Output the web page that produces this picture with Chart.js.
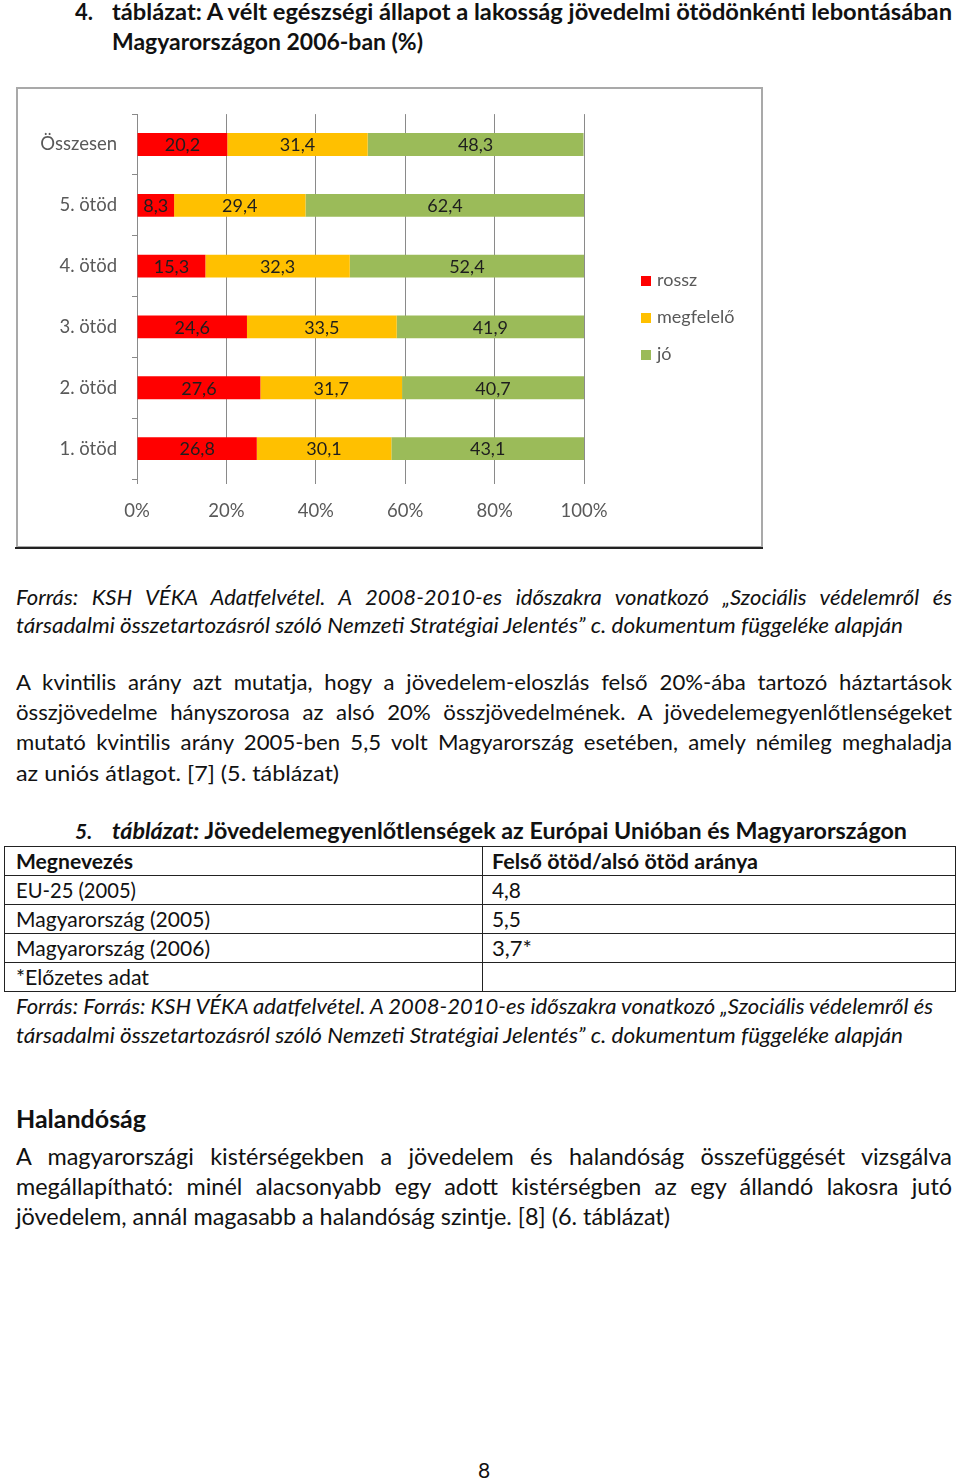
<!DOCTYPE html>
<html lang="hu">
<head>
<meta charset="utf-8">
<script src="https://cdn.jsdelivr.net/npm/chart.js@4/dist/chart.umd.min.js"></script>
<style>
  body { margin: 0; background: #fff; font-family: Lato, "Open Sans", sans-serif; color: #111; }
  #page { position: relative; width: 960px; height: 1480px; overflow: hidden; }
  .ln { position: absolute; white-space: nowrap; line-height: 30px; font-size: 21px; transform-origin: 0 50%; }
  .b { font-weight: bold; }
  .i { font-style: italic; }
  #chartBox { position: absolute; left: 16px; top: 87px; width: 747px; height: 461px; box-sizing: border-box; border: 2px solid #a9a9a9; }
  #chartBox canvas { position: absolute; left: -1px; top: -1px; }
  #chartRule { position: absolute; left: 15px; top: 547px; width: 748px; height: 2px; background: #222; }
  .leg { position: absolute; left: 641px; font-size: 18px; color: #595959; line-height: 20px; white-space: nowrap; }
  .leg i { display: inline-block; width: 10px; height: 10px; margin-right: 6px; vertical-align: 0px; }
  table { position: absolute; left: 4px; top: 846px; width: 952px; border-collapse: collapse; font-size: 21px; }
  td { border: 1.5px solid #222; height: 28px; padding: 0 0 0 11px; line-height: 26px; white-space: nowrap; }
  td.c2 { padding-left: 9px; }
  .sc { display: inline-block; transform-origin: 0 50%; }
</style>
</head>
<body>
<div id="page">
  <div class="ln b" style="left:75px;top:-3px;font-size:22px">4.</div>
  <div class="ln b s" style="left:112px;top:-3px;font-size:22.5px" data-w="840">táblázat: A vélt egészségi állapot a lakosság jövedelmi ötödönkénti lebontásában</div>
  <div class="ln b s" style="left:112px;top:27px;font-size:22.5px" data-w="311">Magyarországon 2006-ban (%)</div>

  <div id="chartBox"><canvas id="healthChart" width="745" height="459"></canvas></div>
  <div id="chartRule"></div>
  <div id="legend"></div>

  <div class="ln i j" style="left:16px;top:582px" data-p="src" data-w="936">Forrás: KSH VÉKA Adatfelvétel. A 2008-2010-es időszakra vonatkozó „Szociális védelemről és</div>
  <div class="ln i s" style="left:16px;top:610px" data-p="src" data-w="887">társadalmi összetartozásról szóló Nemzeti Stratégiai Jelentés” c. dokumentum függeléke alapján</div>

  <div class="ln j" style="left:16px;top:667px;font-size:22px" data-p="p1" data-kf="0.96" data-w="936">A kvintilis arány azt mutatja, hogy a jövedelem-eloszlás felső 20%-ába tartozó háztartások</div>
  <div class="ln j" style="left:16px;top:697px;font-size:22px" data-p="p1" data-kf="0.96" data-w="936">összjövedelme hányszorosa az alsó 20% összjövedelmének. A jövedelemegyenlőtlenségeket</div>
  <div class="ln j" style="left:16px;top:727px;font-size:22px" data-p="p1" data-kf="0.96" data-w="936">mutató kvintilis arány 2005-ben 5,5 volt Magyarország esetében, amely némileg meghaladja</div>
  <div class="ln s" style="left:16px;top:758px;font-size:22px" data-p="p1" data-w="323">az uniós átlagot. [7] (5. táblázat)</div>

  <div class="ln b i" style="left:75px;top:816px;font-size:21px">5.</div>
  <div class="ln b s" style="left:112px;top:816px;font-size:22px" data-w="795"><span class="i">táblázat:</span> Jövedelemegyenlőtlenségek az Európai Unióban és Magyarországon</div>

  <table>
    <tr><td style="width:466px" class="b"><span class="sc" data-w="117">Megnevezés</span></td><td class="c2 b"><span class="sc" data-w="266">Felső ötöd/alsó ötöd aránya</span></td></tr>
    <tr><td><span class="sc" data-w="120">EU-25 (2005)</span></td><td class="c2"><span class="sc" data-w="29">4,8</span></td></tr>
    <tr><td><span class="sc" data-w="194">Magyarország (2005)</span></td><td class="c2"><span class="sc" data-w="29">5,5</span></td></tr>
    <tr><td><span class="sc" data-w="194">Magyarország (2006)</span></td><td class="c2"><span class="sc" data-w="40">3,7*</span></td></tr>
    <tr><td><span class="sc" data-w="133">*Előzetes adat</span></td><td class="c2"></td></tr>
  </table>

  <div class="ln i s" style="left:16px;top:991px" data-w="917">Forrás: Forrás: KSH VÉKA adatfelvétel. A 2008-2010-es időszakra vonatkozó „Szociális védelemről és</div>
  <div class="ln i s" style="left:16px;top:1020px" data-w="887">társadalmi összetartozásról szóló Nemzeti Stratégiai Jelentés” c. dokumentum függeléke alapján</div>

  <div class="ln b s" style="left:16px;top:1103px;font-size:25px" data-w="130">Halandóság</div>
  <div class="ln j" style="left:16px;top:1141px;font-size:23px" data-p="p2" data-w="936">A magyarországi kistérségekben a jövedelem és halandóság összefüggését vizsgálva</div>
  <div class="ln j" style="left:16px;top:1171px;font-size:23px" data-p="p2" data-w="936">megállapítható: minél alacsonyabb egy adott kistérségben az egy állandó lakosra jutó</div>
  <div class="ln s" style="left:16px;top:1201px;font-size:23px" data-p="p2" data-w="654">jövedelem, annál magasabb a halandóság szintje. [8] (6. táblázat)</div>

  <div class="ln" style="left:478px;top:1455px;font-size:21px">8</div>
</div>

<script>
  const categories = ["Összesen", "5. ötöd", "4. ötöd", "3. ötöd", "2. ötöd", "1. ötöd"];
  const seriesNames = ["rossz", "megfelelő", "jó"];
  const rossz = [20.2, 8.3, 15.3, 24.6, 27.6, 26.8];
  const megfelelo = [31.4, 29.4, 32.3, 33.5, 31.7, 30.1];
  const jo = [48.3, 62.4, 52.4, 41.9, 40.7, 43.1];
  const colors = ["#FF0000", "#FFC000", "#9BBB59"];
  const xTickStep = 20;

  const labelFont = { family: "Lato", size: 18.5 };

  // value labels in the middle of each segment
  const valueLabels = {
    id: "valueLabels",
    afterDatasetsDraw(chart) {
      const ctx = chart.ctx;
      ctx.save();
      ctx.font = "18px Lato";
      ctx.fillStyle = "#1e1e1e";
      ctx.textAlign = "center";
      ctx.textBaseline = "middle";
      chart.data.datasets.forEach((ds, i) => {
        chart.getDatasetMeta(i).data.forEach((bar, j) => {
          const x = (bar.x + bar.base) / 2;
          ctx.fillText(ds.data[j].toFixed(1).replace(".", ","), x, bar.y + 1);
        });
      });
      ctx.restore();
    },
  };

  const chart = new Chart(document.getElementById("healthChart").getContext("2d"), {
    type: "bar",
    data: {
      labels: categories,
      datasets: [rossz, megfelelo, jo].map((d, i) => ({
        label: seriesNames[i],
        data: d,
        backgroundColor: colors[i],
        barPercentage: 0.375,
        categoryPercentage: 1,
      })),
    },
    options: {
      indexAxis: "y",
      responsive: false,
      animation: false,
      layout: { padding: { top: 22, right: 178, left: 0, bottom: 0 } },
      plugins: { legend: { display: false }, tooltip: { enabled: false } },
      scales: {
        x: {
          stacked: true,
          min: 0,
          max: 100,
          grid: { color: "#8a8a8a", tickLength: 5 },
          border: { display: false },
          ticks: {
            stepSize: xTickStep,
            callback: (v) => v + "%",
            color: "#595959",
            font: labelFont,
            padding: 16,
          },
          afterFit: (s) => { s.height = 68; },
        },
        y: {
          stacked: true,
          grid: { drawOnChartArea: false, color: "#8a8a8a", tickLength: 5, offset: true },
          border: { display: true, color: "#8a8a8a" },
          ticks: { color: "#595959", font: labelFont, padding: 15 },
          afterFit: (s) => { s.width = 120; },
        },
      },
    },
    plugins: [valueLabels],
  });

  // html legend built from the datasets
  const legend = document.getElementById("legend");
  chart.data.datasets.forEach((ds, i) => {
    const el = document.createElement("div");
    el.className = "leg";
    el.style.top = (269 + i * 37) + "px";
    el.innerHTML = '<i style="background:' + ds.backgroundColor + '"></i>' + ds.label;
    legend.appendChild(el);
  });

  // squeeze lines to the widths in the scan; justified lines share the
  // glyph scale of their paragraph's last line and take up the rest in word gaps
  function fit() {
    const all = document.querySelectorAll(".ln[data-w], .sc[data-w]");
    const k = {};
    all.forEach((el) => {
      el.style.wordSpacing = "0px";
      el.style.transform = "none";
    });
    all.forEach((el) => {
      if (el.classList.contains("j")) return;
      const f = +el.dataset.w / el.getBoundingClientRect().width;
      el.style.transform = "scaleX(" + f + ")";
      if (el.dataset.p) k[el.dataset.p] = f;
    });
    all.forEach((el) => {
      if (!el.classList.contains("j")) return;
      const f = Math.min(k[el.dataset.p] || 1, 1.05) * (+el.dataset.kf || 1);
      const w = el.getBoundingClientRect().width;
      const n = (el.textContent.match(/ /g) || []).length;
      el.style.wordSpacing = (+el.dataset.w / f - w) / n + "px";
      el.style.transform = "scaleX(" + f + ")";
    });
  }
  fit();
  document.fonts.ready.then(() => { fit(); chart.update(); });
</script>
</body>
</html>
